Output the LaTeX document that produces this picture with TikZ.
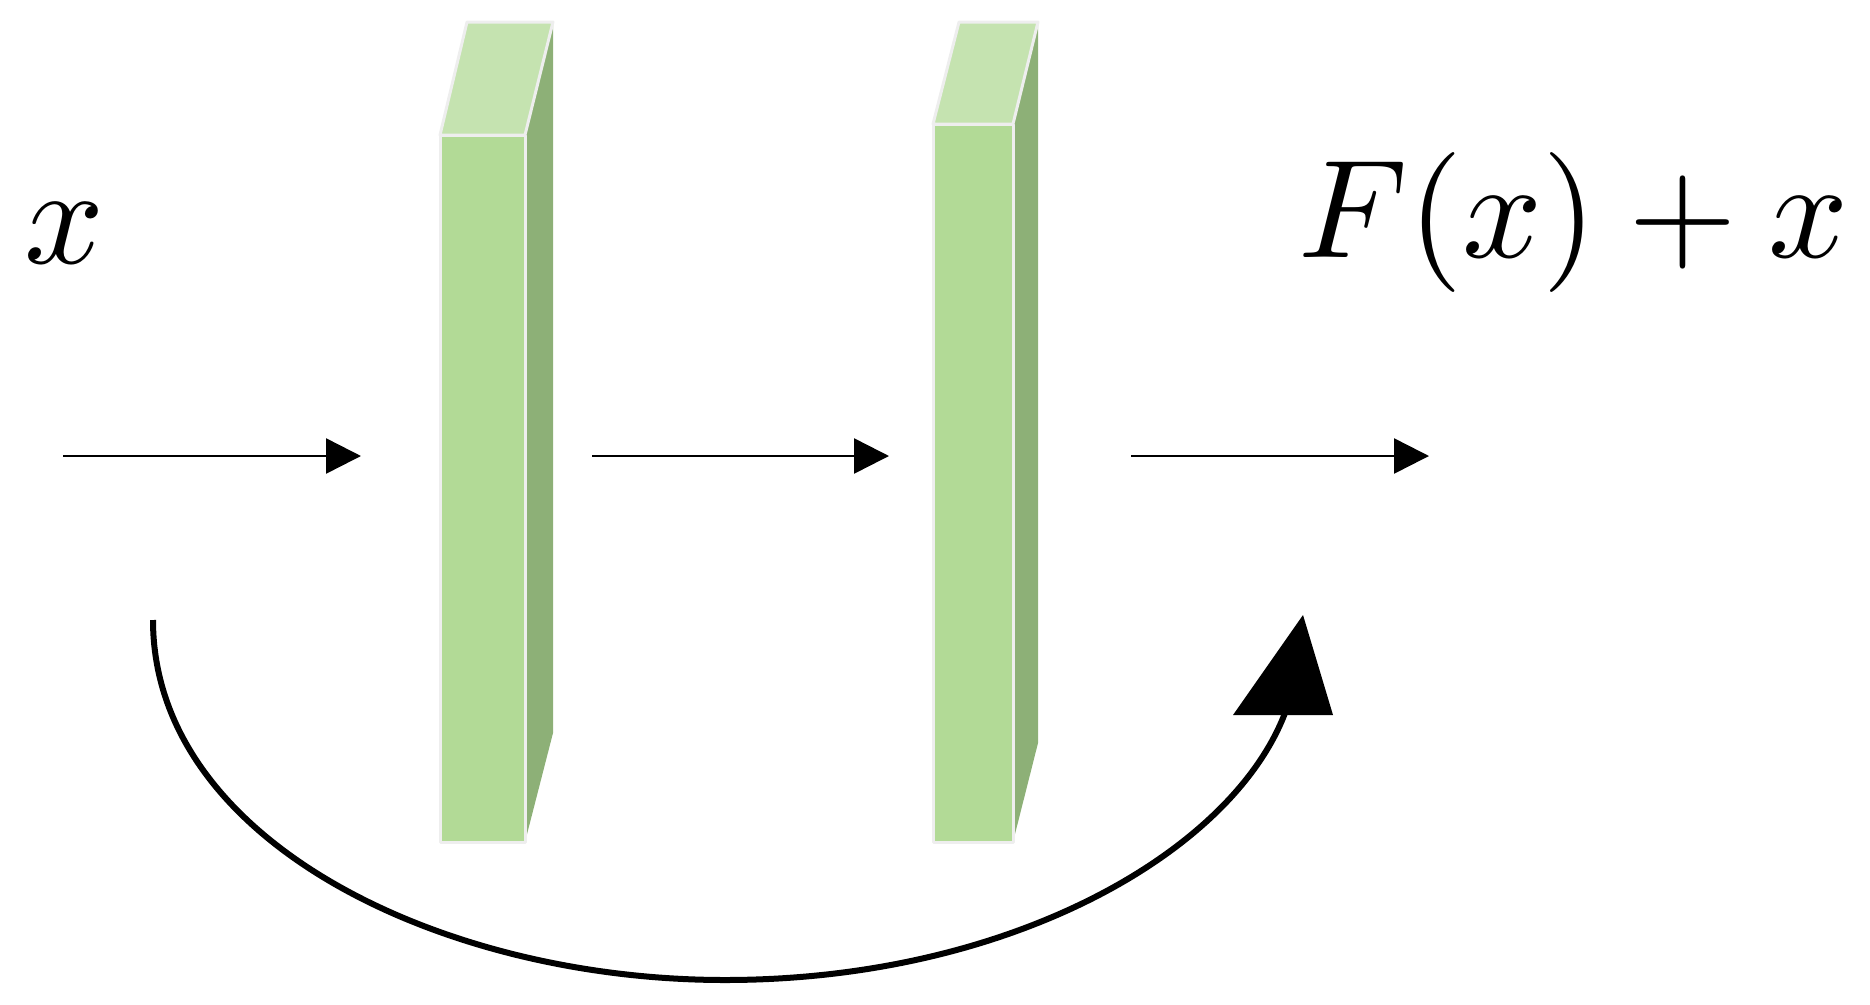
\documentclass[tikz,border=0pt]{standalone}
\usetikzlibrary{arrows.meta}
\definecolor{frontg}{RGB}{178,218,150}
\definecolor{topg}{RGB}{197,227,176}
\definecolor{sideg}{RGB}{141,176,119}
\definecolor{edgeg}{RGB}{238,238,238}
\begin{document}
\begin{tikzpicture}[x=1pt,y=-1pt,
  facefront/.style={fill=frontg,draw=edgeg,line width=3pt,line join=round},
  facetop/.style={fill=topg,draw=edgeg,line width=3pt,line join=round},
  faceside/.style={fill=sideg,draw=none},
  flow/.style={line width=2.5pt,-{Triangle[length=35pt,width=35pt]}},
  skip/.style={line width=6pt},
  lbl/.style={inner sep=0pt,scale=14}]
\useasboundingbox (0,0) rectangle (1870,1004);
% block 1
\coordinate (b1tl) at (440,135);
\coordinate (b1br) at (525,842);
\fill[faceside] (525,135) -- (553,22) -- (553,733) -- (525,842) -- cycle;
\path[facetop] (440,135) -- (467,22) -- (553,22) -- (525,135) -- cycle;
\path[facefront] (b1tl) rectangle (b1br);
% block 2
\coordinate (b2tl) at (933,124);
\coordinate (b2br) at (1013,842);
\fill[faceside] (1013,124) -- (1038,22) -- (1038,743) -- (1013,842) -- cycle;
\path[facetop] (933,124) -- (959,22) -- (1038,22) -- (1013,124) -- cycle;
\path[facefront] (b2tl) rectangle (b2br);
% labels
\node[lbl,anchor=base west] (xin) at (22,263) {$x$};
\node[lbl,anchor=base west] (xout) at (1296,257) {$F(x)+x$};
% straight arrows
\coordinate (a1s) at (63,456);
\coordinate (a1e) at (361,456);
\coordinate (a2s) at (592,456);
\coordinate (a2e) at (889,456);
\coordinate (a3s) at (1131,456);
\coordinate (a3e) at (1429,456);
\draw[flow] (a1s) -- (a1e);
\draw[flow] (a2s) -- (a2e);
\draw[flow] (a3s) -- (a3e);
% skip connection
\coordinate (ss) at (153,620);
\coordinate (sm) at (725,980);
\coordinate (se) at (1285,713);
\draw[skip] (ss) .. controls (153,840) and (440,980) .. (sm)
  .. controls (1010,980) and (1232,852) .. (se);
\fill (1303,615) -- (1233,715) -- (1333,715) -- cycle;
\end{tikzpicture}
\end{document}
